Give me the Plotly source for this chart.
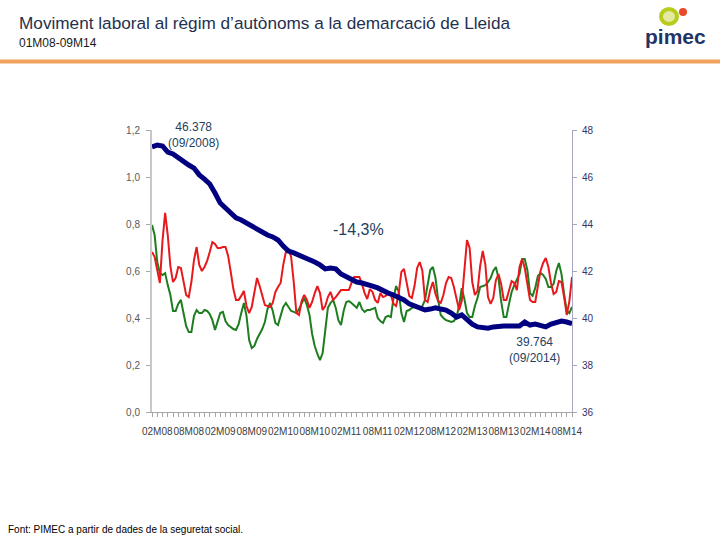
import numpy as np
import plotly.graph_objects as go

# ---------------- data ----------------
# Monthly total (thousands of self-employed), 01M08 .. 09M14 (81 months), right axis
autonoms = [47.28, 47.36, 47.32, 47.06, 46.98, 46.81, 46.64, 46.51, 46.38, 46.09,
            45.91, 45.70, 45.32, 44.89, 44.68, 44.43, 44.26, 44.17, 44.04, 43.87,
            43.74, 43.62, 43.53, 43.45, 43.32, 43.06, 42.85, 42.77, 42.68, 42.60,
            42.51, 42.38, 42.26, 42.09, 42.13, 42.09, 41.87, 41.74, 41.62, 41.53,
            41.49, 41.45, 41.36, 41.28, 41.15, 41.06, 40.98, 40.89, 40.77, 40.60,
            40.51, 40.38, 40.34, 40.38, 40.43, 40.38, 40.34, 40.21, 40.04, 40.13,
            39.91, 39.74, 39.62, 39.57, 39.57, 39.62, 39.66, 39.66, 39.66, 39.66,
            39.66, 39.83, 39.70, 39.74, 39.70, 39.62, 39.74, 39.83, 39.87, 39.83,
            39.76]

# Semi-monthly series, left axis
altes = [0.681, 0.660, 0.604, 0.549, 0.728, 0.847, 0.753, 0.621, 0.553, 0.570,
         0.617, 0.613, 0.557, 0.498, 0.489, 0.553, 0.647, 0.702, 0.626, 0.600,
         0.617, 0.643, 0.681, 0.723, 0.715, 0.698, 0.698, 0.702, 0.702, 0.664,
         0.596, 0.523, 0.477, 0.477, 0.494, 0.515, 0.451, 0.421, 0.447, 0.506,
         0.570, 0.536, 0.498, 0.455, 0.451, 0.447, 0.464, 0.511, 0.532, 0.549,
         0.626, 0.681, 0.694, 0.660, 0.553, 0.421, 0.413, 0.472, 0.498, 0.477,
         0.443, 0.468, 0.506, 0.536, 0.506, 0.434, 0.451, 0.489, 0.511, 0.477,
         0.489, 0.506, 0.519, 0.519, 0.519, 0.519, 0.549, 0.574, 0.574, 0.574,
         0.545, 0.506, 0.481, 0.523, 0.511, 0.477, 0.464, 0.506, 0.489, 0.494,
         0.506, 0.498, 0.460, 0.451, 0.506, 0.596, 0.609, 0.557, 0.494, 0.485,
         0.536, 0.613, 0.638, 0.600, 0.477, 0.468, 0.519, 0.553, 0.502, 0.472,
         0.464, 0.498, 0.549, 0.574, 0.570, 0.532, 0.485, 0.434, 0.472, 0.604,
         0.732, 0.698, 0.553, 0.498, 0.515, 0.621, 0.685, 0.626, 0.489, 0.460,
         0.485, 0.561, 0.587, 0.545, 0.477, 0.477, 0.523, 0.557, 0.549, 0.519,
         0.617, 0.651, 0.613, 0.549, 0.477, 0.468, 0.468, 0.536, 0.600, 0.634,
         0.655, 0.617, 0.549, 0.502, 0.511, 0.557, 0.553, 0.489, 0.413, 0.472,
         0.574]

baixes = [0.796, 0.753, 0.638, 0.591, 0.583, 0.591, 0.540, 0.498, 0.430, 0.430,
          0.460, 0.477, 0.421, 0.366, 0.340, 0.340, 0.409, 0.434, 0.421, 0.421,
          0.434, 0.430, 0.417, 0.391, 0.349, 0.383, 0.421, 0.426, 0.387, 0.370,
          0.362, 0.353, 0.349, 0.374, 0.421, 0.464, 0.409, 0.306, 0.272, 0.281,
          0.311, 0.332, 0.353, 0.383, 0.438, 0.464, 0.430, 0.379, 0.370, 0.409,
          0.447, 0.464, 0.447, 0.430, 0.426, 0.421, 0.438, 0.460, 0.485, 0.455,
          0.413, 0.332, 0.281, 0.247, 0.221, 0.251, 0.362, 0.443, 0.464, 0.477,
          0.443, 0.391, 0.370, 0.430, 0.468, 0.472, 0.464, 0.455, 0.443, 0.468,
          0.438, 0.426, 0.434, 0.434, 0.438, 0.443, 0.400, 0.387, 0.379, 0.404,
          0.409, 0.404, 0.485, 0.536, 0.511, 0.421, 0.383, 0.430, 0.434, 0.443,
          0.447, 0.443, 0.443, 0.451, 0.477, 0.540, 0.604, 0.617, 0.570, 0.477,
          0.413, 0.400, 0.391, 0.387, 0.383, 0.387, 0.404, 0.451, 0.527, 0.481,
          0.421, 0.404, 0.404, 0.451, 0.485, 0.532, 0.536, 0.540, 0.553, 0.570,
          0.600, 0.617, 0.570, 0.472, 0.404, 0.404, 0.460, 0.511, 0.540, 0.562,
          0.587, 0.651, 0.651, 0.604, 0.506, 0.494, 0.528, 0.579, 0.591, 0.583,
          0.566, 0.532, 0.532, 0.545, 0.600, 0.634, 0.587, 0.502, 0.430, 0.421,
          0.447]

tick_labels = ["02M08", "08M08", "02M09", "08M09", "02M10", "08M10", "02M11",
               "08M11", "02M12", "08M12", "02M13", "08M13", "02M14", "08M14"]
tick_months = [1, 7, 13, 19, 25, 31, 37, 43, 49, 55, 61, 67, 73, 79]

n_months = len(autonoms)
x_month = np.arange(n_months)
x_half = np.arange(len(altes)) / 2.0

tickvals = list(range(n_months))
ticktext = [""] * n_months
for m, lab in zip(tick_months, tick_labels):
    ticktext[m] = lab

FONT = "Liberation Sans, Arial, sans-serif"
NAVY = "#243F60"

# plot area in pixels: x 152..572, y 130..412
PL, PR, PT, PB = 152, 572, 130, 412
PW, PH = PR - PL, PB - PT


def px(x):
    return (x - PL) / PW


def py(y):
    return (PB - y) / PH


fig = go.Figure()
fig.add_trace(go.Scatter(x=x_half, y=baixes, mode="lines",
                         line=dict(color="#1E7D1E", width=2), showlegend=False))
fig.add_trace(go.Scatter(x=x_half, y=altes, mode="lines",
                         line=dict(color="#E8191C", width=2), showlegend=False))
fig.add_trace(go.Scatter(x=x_month, y=autonoms, mode="lines", yaxis="y2",
                         line=dict(color="#000080", width=5), showlegend=False))

fig.update_layout(
    width=720, height=540,
    margin=dict(l=PL, r=720 - PR, t=PT, b=540 - PB),
    paper_bgcolor="white", plot_bgcolor="white",
    separators=",.",
    font=dict(family=FONT, color="#404040", size=10),
    xaxis=dict(range=[0, n_months - 1], tickmode="array", tickvals=tickvals,
               ticktext=ticktext, ticks="outside", ticklen=4, tickcolor="#A6A6A6",
               showline=True, linecolor="#A6A6A6", linewidth=1, showgrid=False,
               zeroline=False, tickangle=0, ticklabelstandoff=6,
               tickfont=dict(size=10, color="#404040")),
    yaxis=dict(range=[0, 1.2], tickvals=[0, 0.2, 0.4, 0.6, 0.8, 1.0, 1.2],
               tickformat=".1f", ticks="outside", ticklen=4, tickcolor="#A6A6A6",
               showline=True, linecolor="#C8C8C8", linewidth=2, showgrid=False,
               zeroline=False, ticklabelstandoff=4,
               tickfont=dict(size=10, color="#595959")),
    yaxis2=dict(range=[36, 48], tickvals=[36, 38, 40, 42, 44, 46, 48],
                overlaying="y", side="right", ticks="outside", ticklen=4,
                tickcolor="#A6A6C0", showline=True, linecolor="#A6A6C0",
                linewidth=1, showgrid=False, zeroline=False, ticklabelstandoff=3,
                tickfont=dict(size=10, color="#333366")),
)

# Title, subtitle, source
fig.add_annotation(text="Moviment laboral al règim d’autònoms a la demarcació de Lleida",
                   xref="paper", yref="paper", x=px(17), y=py(23),
                   xanchor="left", yanchor="middle", showarrow=False,
                   font=dict(family=FONT, size=17.2, color="#1F3050"))
fig.add_annotation(text="01M08-09M14", xref="paper", yref="paper",
                   x=px(17), y=py(43),
                   xanchor="left", yanchor="middle", showarrow=False,
                   font=dict(family=FONT, size=12, color="#1A1A1A"))
fig.add_annotation(text="Font: PIMEC a partir de dades de la seguretat social.",
                   xref="paper", yref="paper", x=px(6), y=py(529),
                   xanchor="left", yanchor="middle", showarrow=False,
                   font=dict(family=FONT, size=10, color="#000000"))

# Data annotations
fig.add_annotation(text="46.378<br>(09/2008)", xref="paper", yref="paper",
                   x=px(193), y=py(135),
                   xanchor="center", yanchor="middle", showarrow=False,
                   font=dict(family=FONT, size=12, color=NAVY))
fig.add_annotation(text="-14,3%", xref="paper", yref="paper",
                   x=px(358), y=py(229),
                   xanchor="center", yanchor="middle", showarrow=False,
                   font=dict(family=FONT, size=16, color=NAVY))
fig.add_annotation(text="39.764<br>(09/2014)", xref="paper", yref="paper",
                   x=px(534), y=py(350),
                   xanchor="center", yanchor="middle", showarrow=False,
                   font=dict(family=FONT, size=12, color=NAVY))

# Orange separator bar
fig.add_shape(type="rect", xref="paper", yref="paper",
              x0=px(0), x1=px(720), y0=py(63.5), y1=py(59.5),
              fillcolor="#F2A25C", line=dict(width=0), layer="above")

# Logo
fig.add_shape(type="circle", xref="paper", yref="paper",
              x0=px(661), x1=px(677), y0=py(24), y1=py(9),
              fillcolor="#E5E8A0", line=dict(color="#B8CC1E", width=4))
fig.add_shape(type="circle", xref="paper", yref="paper",
              x0=px(679), x1=px(687), y0=py(16), y1=py(8),
              fillcolor="#E84A2A", line=dict(width=0))
fig.add_annotation(text="<b>pimec</b>", xref="paper", yref="paper",
                   x=px(675), y=py(36),
                   xanchor="center", yanchor="middle", showarrow=False,
                   font=dict(family=FONT, size=21, color="#1F3566"))

fig.write_html("out.html",
               config={"displayModeBar": False},
               post_script="document.body.style.margin='0px';"
                           "document.body.style.overflow='hidden';")
